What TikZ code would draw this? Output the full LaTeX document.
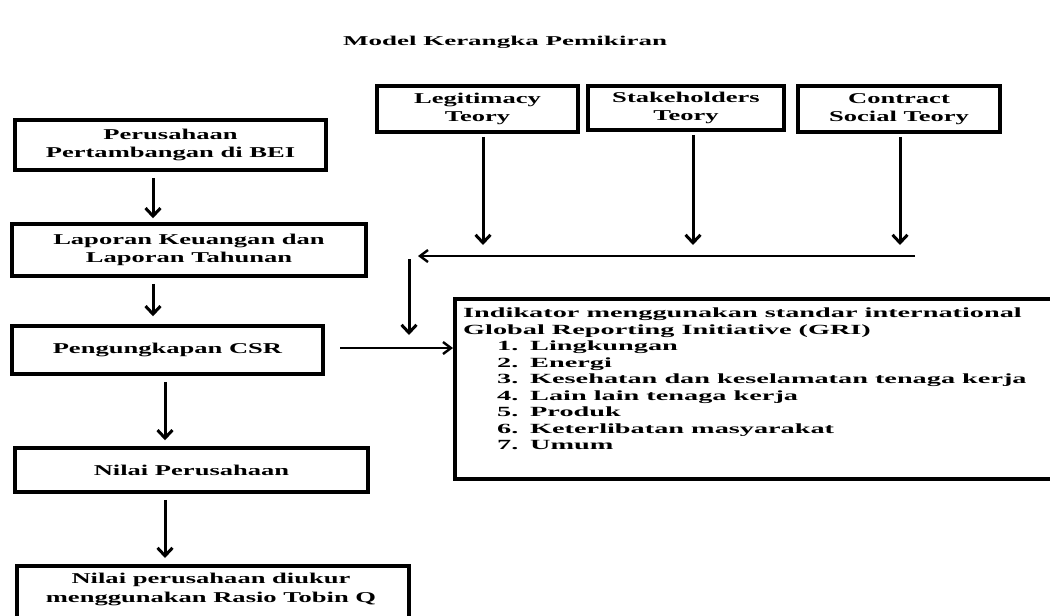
\documentclass[tikz,border=0pt]{standalone}
\usepackage{fontspec}
\setmainfont{Liberation Serif}
\newfontfamily\boxfont{Liberation Serif}[FakeStretch=1.77]
\newfontfamily\grifont{Liberation Serif}[FakeStretch=2.02]
\newfontfamily\titlefont{Liberation Serif}[FakeStretch=2.0]
\usetikzlibrary{arrows.meta}
\begin{document}
\begin{tikzpicture}[x=1pt,y=-1pt,
  boxstyle/.style={draw=black, line width=3.5pt, fill=white, inner sep=0pt, align=center,
     font=\boxfont\bfseries\fontsize{15}{18.5}\selectfont},
  arr/.style={line width=3pt, -{Straight Barb[length=8pt,width=15pt,line width=3pt]}},
  harr/.style={line width=2pt, -{Straight Barb[length=8pt,width=12pt,line width=2.4pt]}}]
\useasboundingbox (0,0) rectangle (1050,616);
\clip (0,0) rectangle (1050,616);

\node[font=\titlefont\bfseries\fontsize{13.5}{16}\selectfont] (title) at (505,42) {Model Kerangka Pemikiran};

% left column
\node[boxstyle, minimum width=311pt, minimum height=50pt] (b1) at (170.5,145) {Perusahaan\\Pertambangan di BEI};
\node[boxstyle, minimum width=354pt, minimum height=52pt] (b2) at (189,250) {Laporan Keuangan dan\\Laporan Tahunan};
\node[boxstyle, minimum width=311pt, minimum height=48pt] (b3) at (167.5,350) {Pengungkapan CSR};
\node[boxstyle, minimum width=353pt, minimum height=44pt] (b4) at (191.5,470) {Nilai Perusahaan};
\node[boxstyle, minimum width=392pt, minimum height=62pt, anchor=north west] (b5) at (15,564) {};
\node[font=\boxfont\bfseries\fontsize{15}{19}\selectfont, align=center] (b5t) at (211,589) {Nilai perusahaan diukur\\menggunakan Rasio Tobin Q};

% top theory boxes
\node[boxstyle, minimum width=201pt, minimum height=46pt] (t1) at (477.5,109) {Legitimacy\\Teory};
\node[boxstyle, minimum width=196pt, minimum height=44pt] (t2) at (686,108) {Stakeholders\\Teory};
\node[boxstyle, minimum width=202pt, minimum height=46pt] (t3) at (899,109) {Contract\\Social Teory};

% GRI box
\node[draw=black, line width=3.5pt, minimum width=604pt, minimum height=180pt, anchor=north west] (gri) at (453,297) {};
\node[anchor=north west, align=left, inner sep=0pt,
      font=\grifont\bfseries\fontsize{14}{16.5}\selectfont] (grit) at (463,308)
{Indikator menggunakan standar international\\
Global Reporting Initiative (GRI)\\
\hspace*{34pt}\makebox[33pt][l]{1.}Lingkungan\\
\hspace*{34pt}\makebox[33pt][l]{2.}Energi\\
\hspace*{34pt}\makebox[33pt][l]{3.}Kesehatan dan keselamatan tenaga kerja\\
\hspace*{34pt}\makebox[33pt][l]{4.}Lain lain tenaga kerja\\
\hspace*{34pt}\makebox[33pt][l]{5.}Produk\\
\hspace*{34pt}\makebox[33pt][l]{6.}Keterlibatan masyarakat\\
\hspace*{34pt}\makebox[33pt][l]{7.}Umum};

% helper coordinates
\coordinate (xa) at (153,0);
\coordinate (xb) at (165,0);
\coordinate (j1) at (483,245);
\coordinate (j2) at (693,245);
\coordinate (j3) at (900,245);
\coordinate (hs) at (915,256);
\coordinate (he) at (418,256);
\coordinate (vs) at (409,259);
\coordinate (ve) at (409,335);
\coordinate (cs) at (340,348);

% left arrows
\draw[arr, shorten <=6pt, shorten >=4pt] (b1.south -| xa) -- (b2.north -| xa);
\draw[arr, shorten <=6pt, shorten >=8pt] (b2.south -| xa) -- (b3.north -| xa);
\draw[arr, shorten <=6pt, shorten >=6pt] (b3.south -| xb) -- (b4.north -| xb);
\draw[arr, shorten <=6pt, shorten >=6pt] (b4.south -| xb) -- (b5.north -| xb);

% theory arrows
\draw[arr, shorten <=3pt] (t1.south -| j1) -- (j1);
\draw[arr, shorten <=3pt] (t2.south -| j2) -- (j2);
\draw[arr, shorten <=3pt] (t3.south -| j3) -- (j3);
\draw[harr] (hs) -- (he);
\draw[arr] (vs) -- (ve);
\draw[harr] (cs) -- (gri.west |- cs);
\end{tikzpicture}
\end{document}
